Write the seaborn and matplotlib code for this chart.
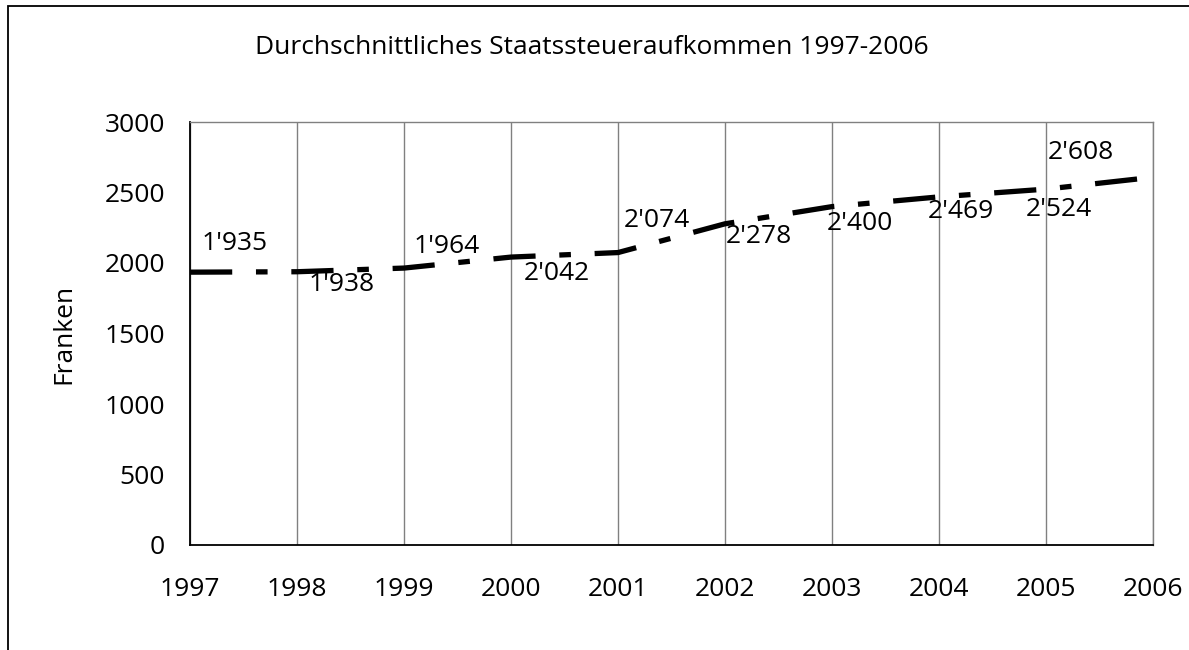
import seaborn as sns
import matplotlib.pyplot as plt
import pandas as pd
from matplotlib.patches import Rectangle

# Daten
years = [1997, 1998, 1999, 2000, 2001, 2002, 2003, 2004, 2005, 2006]
values = [1935, 1938, 1964, 2042, 2074, 2278, 2400, 2469, 2524, 2608]
labels = ["1'935", "1'938", "1'964", "2'042", "2'074", "2'278", "2'400", "2'469", "2'524", "2'608"]
# Versatz der Beschriftungen (Pixel)
label_dx = [45, 45, 43, 46, 39, 34, 28, 22, 13, -72]
label_dy = [29, -13, 22, -16, 32, -13, -17, -15, -20, 25]

data = pd.DataFrame({'Jahr': years, 'Franken': values})

sns.set_style("white")
plt.rcParams['font.family'] = ['Open Sans', 'DejaVu Sans']
plt.rcParams['text.color'] = 'black'

fig = plt.figure(figsize=(11.89, 6.5), dpi=100)
ax = fig.add_axes([190 / 1189, 1 - 545 / 650, (1153 - 190) / 1189, (545 - 122) / 650])

sns.lineplot(data=data, x='Jahr', y='Franken', ax=ax, color='black',
             linewidth=3.8, linestyle=(0, (8, 4.5, 2.2, 4.5)))

for x, y, t, dx, dy in zip(years, values, labels, label_dx, label_dy):
    ax.annotate(t, (x, y), xytext=(dx, dy), textcoords='offset pixels',
                ha='center', va='center', fontsize=19, color='black')

ax.set_xlim(1997, 2006)
ax.set_ylim(0, 3000)
ax.set_xticks(years)
ax.set_yticks(range(0, 3001, 500))
ax.xaxis.grid(True, color='#808080', linewidth=1)
ax.yaxis.grid(False)
ax.tick_params(axis='both', labelsize=19, labelcolor='black', length=7,
               width=1, direction='out')
ax.tick_params(axis='x', pad=16, color='#808080')
ax.tick_params(axis='y', pad=11, color='#808080')
ax.set_xlabel('')
ax.set_ylabel('Franken', fontsize=19, labelpad=20, color='black')

for side in ['top', 'right']:
    ax.spines[side].set_color('#808080')
    ax.spines[side].set_linewidth(1)
for side in ['left', 'bottom']:
    ax.spines[side].set_color('black')
    ax.spines[side].set_linewidth(1.3)

fig.text(0.4975, 1 - 47 / 650, 'Durchschnittliches Staatssteueraufkommen 1997-2006',
         ha='center', va='center', fontsize=19, color='black')

# Rahmen um die Grafik
fig.patches.append(Rectangle((8 / 1189, -0.5), 2, 1.5 - 6 / 650,
                             transform=fig.transFigure, fill=False,
                             edgecolor='black', linewidth=1.3))

fig.savefig('out.png', dpi=100)
